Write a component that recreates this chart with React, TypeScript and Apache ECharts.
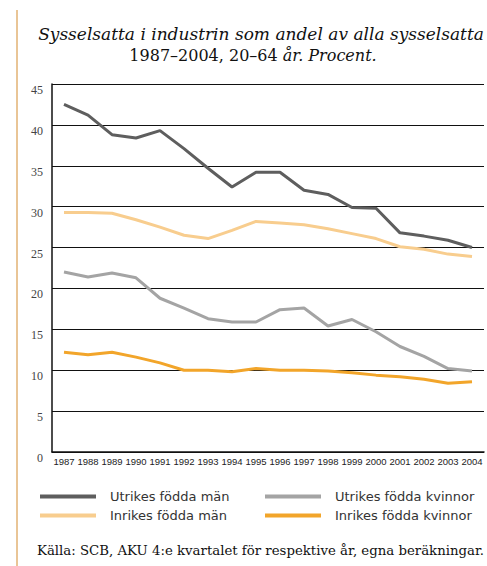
import React, { useEffect, useRef } from "react";
import * as echarts from "echarts";

const years = ["1987","1988","1989","1990","1991","1992","1993","1994","1995","1996","1997","1998","1999","2000","2001","2002","2003","2004"];
const utrikesMan = [42.5, 41.2, 38.8, 38.4, 39.3, 37.1, 34.7, 32.4, 34.2, 34.2, 32.0, 31.5, 29.9, 29.8, 26.8, 26.4, 25.9, 25.0];
const inrikesMan = [29.3, 29.3, 29.2, 28.4, 27.5, 26.5, 26.1, 27.1, 28.2, 28.0, 27.8, 27.3, 26.7, 26.1, 25.1, 24.8, 24.2, 23.9];
const utrikesKvinnor = [22.0, 21.4, 21.9, 21.3, 18.8, 17.6, 16.3, 15.9, 15.9, 17.4, 17.6, 15.4, 16.2, 14.7, 12.9, 11.7, 10.2, 9.9];
const inrikesKvinnor = [12.2, 11.9, 12.2, 11.6, 10.9, 10.0, 10.0, 9.8, 10.2, 10.0, 10.0, 9.9, 9.7, 9.4, 9.2, 8.9, 8.4, 8.6];
const yTicks = { min: 0, max: 45, interval: 5 };

const titleLine1 = "Sysselsatta i industrin som andel av alla sysselsatta";
const titleLine2a = "1987–2004, 20–64 ";
const titleLine2b = "år. Procent.";
const source = "Källa: SCB, AKU 4:e kvartalet för respektive år, egna beräkningar.";

const names = ["Utrikes födda män", "Utrikes födda kvinnor", "Inrikes födda män", "Inrikes födda kvinnor"];
const colors = ["#5e5e5e", "#a4a4a4", "#f8cd8e", "#f2a52a"];

export default function App() {
  const ref = useRef<HTMLDivElement>(null);
  useEffect(() => {
    if (!ref.current) return;
    const chart = echarts.init(ref.current, null, { renderer: "svg" });
    const data = [utrikesMan, utrikesKvinnor, inrikesMan, inrikesKvinnor];
    const legendPos = [
      { left: 40, top: 490 },
      { left: 265, top: 490 },
      { left: 40, top: 509 },
      { left: 265, top: 509 },
    ];
    chart.setOption({
      animation: false,
      backgroundColor: "#ffffff",
      grid: { left: 52, right: 3, top: 84, bottom: 114, containLabel: false },
      xAxis: {
        type: "category",
        data: years,
        boundaryGap: true,
        axisLine: { lineStyle: { color: "#111", width: 1.5 } },
        axisTick: { inside: true, length: 7, lineStyle: { color: "#111" } },
        axisLabel: {
          interval: 0,
          fontSize: 9.5,
          fontFamily: "Liberation Sans Narrow, Liberation Sans, sans-serif",
          color: "#222",
          margin: 4,
        },
      },
      yAxis: {
        type: "value",
        min: yTicks.min,
        max: yTicks.max,
        interval: yTicks.interval,
        axisLine: { show: true, lineStyle: { color: "#111", width: 1.5 } },
        axisTick: { show: false },
        splitLine: { lineStyle: { color: "#111", width: 1 } },
        axisLabel: {
          fontSize: 12,
          fontFamily: "Liberation Serif, serif",
          color: "#444",
          margin: 9,
          verticalAlign: "top",
        },
      },
      legend: legendPos.map((p, i) => ({
        data: [names[i]],
        left: p.left,
        top: p.top,
        padding: 0,
        icon: "rect",
        itemWidth: 56,
        itemHeight: 4,
        itemGap: 0,
        textStyle: {
          fontSize: 13,
          fontFamily: "DejaVu Sans, sans-serif",
          color: "#333",
          padding: [0, 0, 0, 9],
        },
      })),
      series: names.map((n, i) => ({
        name: n,
        type: "line",
        data: data[i],
        symbol: "none",
        lineStyle: { color: colors[i], width: 3 },
        itemStyle: { color: colors[i] },
      })),
      graphic: [
        {
          type: "line",
          shape: { x1: 17, y1: 10, x2: 17, y2: 566 },
          style: { stroke: "#e9c596", lineWidth: 2 },
        },
        {
          type: "text",
          x: 261,
          y: 34,
          style: {
            text: titleLine1,
            font: "italic 17px 'DejaVu Serif', serif",
            fill: "#111",
            align: "center",
            verticalAlign: "middle",
          },
        },
        {
          type: "text",
          x: 253,
          y: 55,
          style: {
            text: "{u|" + titleLine2a + "}{i|" + titleLine2b + "}",
            align: "center",
            verticalAlign: "middle",
            rich: {
              u: { font: "16px 'DejaVu Serif', serif", fill: "#111" },
              i: { font: "italic 16px 'DejaVu Serif', serif", fill: "#111" },
            },
          },
        },
        {
          type: "text",
          x: 37,
          y: 550,
          style: {
            text: source,
            font: "13.3px 'DejaVu Serif', serif",
            fill: "#111",
            align: "left",
            verticalAlign: "middle",
          },
        },
      ],
    });
    return () => chart.dispose();
  }, []);
  return (
    <div
      ref={ref}
      style={{ position: "fixed", left: 0, top: 0, width: 487, height: 566 }}
    />
  );
}
